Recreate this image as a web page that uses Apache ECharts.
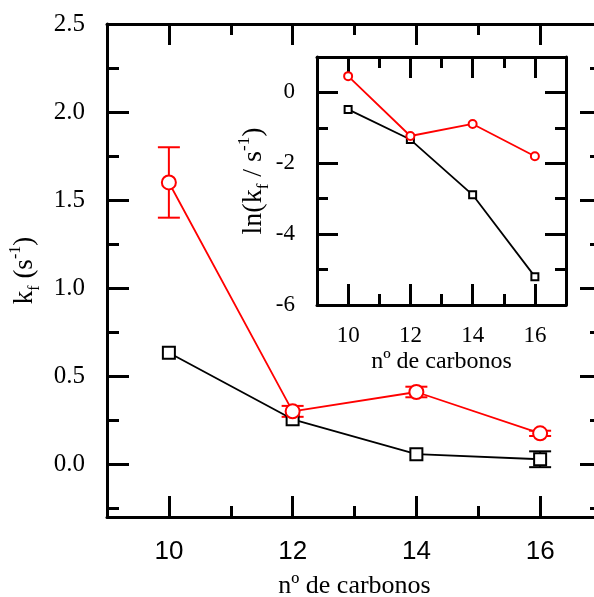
<!DOCTYPE html>
<html><head><meta charset="utf-8">
<script src="https://cdn.jsdelivr.net/npm/echarts@6/dist/echarts.min.js"></script>
<style>html,body{margin:0;padding:0;background:#fff}#c{width:594px;height:597px}</style>
</head><body><div id="c"></div>
<script>
// ---- data ----
const carbons = [10, 12, 14, 16];
const kfRed = [1.60, 0.30, 0.41, 0.175];
const kfRedErr = [0.20, 0.031, 0.030, 0.015];
const kfBlack = [0.633, 0.255, 0.057, 0.028];
const kfBlackErr = [0, 0, 0, 0.045];
const lnRed = [0.46, -1.23, -0.89, -1.80];
const lnBlack = [-0.48, -1.33, -2.89, -5.20];
const xTitle = 'nº de carbonos';

const serif = '"Liberation Serif", "Times New Roman", serif';
const sans = '"Liberation Sans", Arial, sans-serif';

function pts(xs, ys) { return xs.map((x, i) => [x, ys[i]]); }
function errPts(xs, ys, es) {
  return xs.map((x, i) => [x, ys[i], es[i]]).filter(d => d[2] > 0);
}

function axis(extra, tickLen, minorLen) {
  return Object.assign({
    type: 'value',
    axisLine: {show: true, onZero: false, lineStyle: {color: '#000', width: 3}},
    axisTick: {show: true, inside: true, length: tickLen, lineStyle: {color: '#000', width: 3}},
    minorTick: {show: true, splitNumber: 2, length: minorLen, lineStyle: {color: '#000', width: 3}},
    splitLine: {show: false},
    minorSplitLine: {show: false},
    axisLabel: {show: false}
  }, extra);
}

function errSeries(data, color, xi, yi, capHalf) {
  return {
    type: 'custom', xAxisIndex: xi, yAxisIndex: yi, z: 1, silent: true,
    data: data,
    renderItem: function (params, api) {
      const x = api.value(0), y = api.value(1), e = api.value(2);
      const t = api.coord([x, y + e]);
      const b = api.coord([x, y - e]);
      const st = {stroke: color, lineWidth: 2};
      return {type: 'group', children: [
        {type: 'line', shape: {x1: t[0], y1: t[1], x2: b[0], y2: b[1]}, style: st},
        {type: 'line', shape: {x1: t[0] - capHalf, y1: t[1], x2: t[0] + capHalf, y2: t[1]}, style: st},
        {type: 'line', shape: {x1: b[0] - capHalf, y1: b[1], x2: b[0] + capHalf, y2: b[1]}, style: st}
      ]};
    }
  };
}

const mainYName = '{a|k}{b|f}{a| (s}{c|-1}{a|)}';
const insetYName = '{a|ln(k}{b|f}{a| / s}{c|-1}{a|)}';
function richName(fs, sfs) {
  return {
    a: {fontFamily: serif, fontSize: fs, color: '#000', lineHeight: fs + 8, verticalAlign: 'middle'},
    b: {fontFamily: serif, fontSize: sfs, color: '#000', lineHeight: sfs, verticalAlign: 'bottom'},
    c: {fontFamily: serif, fontSize: sfs, color: '#000', lineHeight: sfs, verticalAlign: 'top'}
  };
}

const option = {
  animation: false,
  backgroundColor: '#fff',
  grid: [
    {left: 107, top: 24, width: 495, height: 493, containLabel: false, outerBoundsMode: 'none'},
    {left: 317, top: 57, width: 249, height: 248, containLabel: false, outerBoundsMode: 'none', show: true, backgroundColor: '#fff', borderWidth: 0, z: 5}
  ],
  xAxis: [
    axis({gridIndex: 0, position: 'bottom', min: 9, max: 17, splitNumber: 4,
      axisLabel: {show: true, fontFamily: sans, fontSize: 26, color: '#000', margin: 22, showMinLabel: false, showMaxLabel: false},
      name: xTitle, nameLocation: 'middle', nameGap: 56,
      nameTextStyle: {fontFamily: serif, fontSize: 26, color: '#000'}}, 21, 11),
    axis({gridIndex: 0, position: 'top', min: 9, max: 17, splitNumber: 4}, 21, 11),
    axis({gridIndex: 1, position: 'bottom', min: 9, max: 17, splitNumber: 4, z: 6,
      axisLabel: {show: true, fontFamily: serif, fontSize: 23, color: '#000', margin: 19, showMinLabel: false, showMaxLabel: false},
      name: xTitle, nameLocation: 'middle', nameGap: 45,
      nameTextStyle: {fontFamily: serif, fontSize: 24, color: '#000'}}, 21, 11),
    axis({gridIndex: 1, position: 'top', min: 9, max: 17, splitNumber: 4, z: 6}, 21, 11)
  ],
  yAxis: [
    axis({gridIndex: 0, position: 'left', min: -0.3, max: 2.5, splitNumber: 5,
      axisLabel: {show: true, fontFamily: serif, fontSize: 25, color: '#000', margin: 22, showMinLabel: false,
        formatter: v => Number(v).toFixed(1)},
      name: mainYName, nameLocation: 'middle', nameGap: 58, nameRotate: 90,
      nameTextStyle: {rich: richName(27, 16)}}, 22, 12),
    axis({gridIndex: 0, position: 'right', min: -0.3, max: 2.5, splitNumber: 5}, 22, 12),
    axis({gridIndex: 1, position: 'left', min: -6, max: 1, splitNumber: 3, z: 6,
      axisLabel: {show: true, fontFamily: serif, fontSize: 23, color: '#000', margin: 22, showMaxLabel: false,
        formatter: v => String(v)},
      name: insetYName, nameLocation: 'middle', nameGap: 43, nameRotate: 90,
      nameTextStyle: {rich: richName(28, 17)}}, 21, 11),
    axis({gridIndex: 1, position: 'right', min: -6, max: 1, splitNumber: 3, z: 6}, 21, 11)
  ],
  series: [
    errSeries(errPts(carbons, kfRed, kfRedErr), '#ff0000', 0, 0, 11),
    errSeries(errPts(carbons, kfBlack, kfBlackErr), '#000000', 0, 0, 11),
    {type: 'line', xAxisIndex: 0, yAxisIndex: 0, z: 3, data: pts(carbons, kfBlack),
      symbol: 'emptyRect', symbolSize: 12, showAllSymbol: true,
      lineStyle: {color: '#000', width: 1.8}, itemStyle: {color: '#000', borderWidth: 1.5}},
    {type: 'line', xAxisIndex: 0, yAxisIndex: 0, z: 3, data: pts(carbons, kfRed),
      symbol: 'emptyCircle', symbolSize: 14, showAllSymbol: true,
      lineStyle: {color: '#ff0000', width: 1.8}, itemStyle: {color: '#ff0000', borderWidth: 1.5}},
    {type: 'line', xAxisIndex: 2, yAxisIndex: 2, z: 7, data: pts(carbons, lnBlack),
      symbol: 'emptyRect', symbolSize: 7, showAllSymbol: true,
      lineStyle: {color: '#000', width: 1.8}, itemStyle: {color: '#000', borderWidth: 1.2}},
    {type: 'line', xAxisIndex: 2, yAxisIndex: 2, z: 7, data: pts(carbons, lnRed),
      symbol: 'emptyCircle', symbolSize: 8, showAllSymbol: true,
      lineStyle: {color: '#ff0000', width: 1.8}, itemStyle: {color: '#ff0000', borderWidth: 1.2}}
  ]
};

const chart = echarts.init(document.getElementById('c'), null, {renderer: 'canvas'});
chart.setOption(option);
</script>
</body></html>
